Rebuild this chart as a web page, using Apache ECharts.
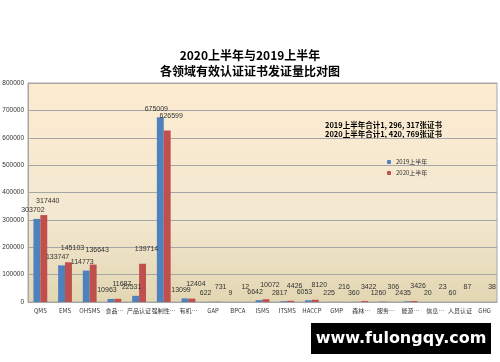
<!DOCTYPE html>
<html>
<head>
<meta charset="utf-8">
<script src="https://cdn.jsdelivr.net/npm/echarts@6/dist/echarts.min.js"></script>
<style>
  html, body { margin: 0; padding: 0; background: #fff; }
  #main { width: 500px; height: 362px; }
</style>
</head>
<body>
<div id="main"></div>
<script>
// 各领域
var categories = ['QMS', 'EMS', 'OHSMS', '食品…', '产品认证', '强制性…', '有机…', 'GAP', 'BPCA', 'ISMS',
  'ITSMS', 'HACCP', 'GMP', '森林…', '服务…', '能源…', '信息…', '人员认证', 'GHG'];
var h2019 = [303702, 133747, 114773, 10963, 22531, 675009, 13099, 622, 9, 6642,
  2817, 6053, 225, 360, 1260, 2435, 20, 60, '-'];
var h2020 = [317440, 145103, 136643, 11687, 139714, 626599, 12404, 731, 12, 10072,
  4426, 8120, 216, 3422, 306, 3426, 23, 87, 38];
var yTicks = [0, 100000, 200000, 300000, 400000, 500000, 600000, 700000, 800000];

var chartDom = document.getElementById('main');
var myChart = echarts.init(chartDom);

var labelStyle = {
  show: true,
  position: 'top',
  fontSize: 7,
  color: '#333',
  fontFamily: 'Liberation Sans'
};

var option = {
  backgroundColor: '#fff',
  animation: false,
  title: {
    text: '2020上半年与2019上半年\n各领域有效认证证书发证量比对图',
    left: 'center',
    top: 42,
    textStyle: {
      fontSize: 12,
      fontWeight: 'bold',
      color: '#000',
      lineHeight: 16,
      fontFamily: 'Noto Sans CJK SC'
    }
  },
  legend: {
    orient: 'vertical',
    left: 382,
    top: 154,
    itemWidth: 4,
    itemHeight: 4,
    itemGap: 5,
    textStyle: { fontSize: 6, color: '#333', fontFamily: 'Noto Sans CJK SC' },
    data: ['2019上半年', '2020上半年']
  },
  grid: {
    left: 28,
    right: 3,
    top: 83,
    bottom: 60,
    outerBoundsMode: 'none',
    containLabel: false,
    show: true,
    borderColor: '#a6a6a6',
    borderWidth: 1,
    backgroundColor: new echarts.graphic.LinearGradient(0, 0, 0, 1, [
      { offset: 0, color: '#fdebd0' },
      { offset: 0.6, color: '#f3e8d1' },
      { offset: 1, color: '#e2d6b2' }
    ])
  },
  xAxis: {
    type: 'category',
    data: categories,
    axisLine: { lineStyle: { color: '#a6a6a6' } },
    axisTick: { show: false },
    axisLabel: {
      interval: 0,
      fontSize: 6,
      color: '#333',
      margin: 6,
      fontFamily: 'Noto Sans CJK SC'
    }
  },
  yAxis: {
    type: 'value',
    min: yTicks[0],
    max: yTicks[yTicks.length - 1],
    interval: 100000,
    axisLine: { show: true, lineStyle: { color: '#a6a6a6' } },
    axisTick: { show: false },
    axisLabel: {
      fontSize: 6.5,
      color: '#333',
      margin: 4,
      fontFamily: 'Liberation Sans',
      formatter: function (v) { return String(v); }
    },
    splitLine: { lineStyle: { color: '#a6a6a6', width: 1.2 } }
  },
  series: [
    {
      name: '2019上半年',
      type: 'bar',
      data: h2019,
      barGap: '0%',
      barCategoryGap: '44%',
      itemStyle: { color: '#4f81bd' },
      label: Object.assign({}, labelStyle, { offset: [-4, 0] })
    },
    {
      name: '2020上半年',
      type: 'bar',
      data: h2020,
      itemStyle: { color: '#c0504d' },
      label: Object.assign({}, labelStyle, { offset: [4, -6] })
    }
  ],
  graphic: [
    {
      type: 'text',
      left: 325,
      top: 121,
      style: {
        text: '2019上半年合计1, 296, 317张证书\n2020上半年合计1, 420, 769张证书',
        fontSize: 7.5,
        fontWeight: 'bold',
        lineHeight: 9,
        fill: '#000',
        fontFamily: 'Noto Sans CJK SC'
      }
    },
    {
      type: 'rect',
      left: 311,
      top: 323,
      shape: { width: 180, height: 31 },
      style: { fill: '#000' }
    },
    {
      type: 'text',
      x: 401,
      y: 339,
      style: {
        text: 'www.fulongqy.com',
        fontSize: 16,
        fontWeight: 'bold',
        fill: '#fff',
        align: 'center',
        verticalAlign: 'middle',
        fontFamily: 'DejaVu Sans'
      }
    }
  ]
};

myChart.setOption(option);
</script>
</body>
</html>
